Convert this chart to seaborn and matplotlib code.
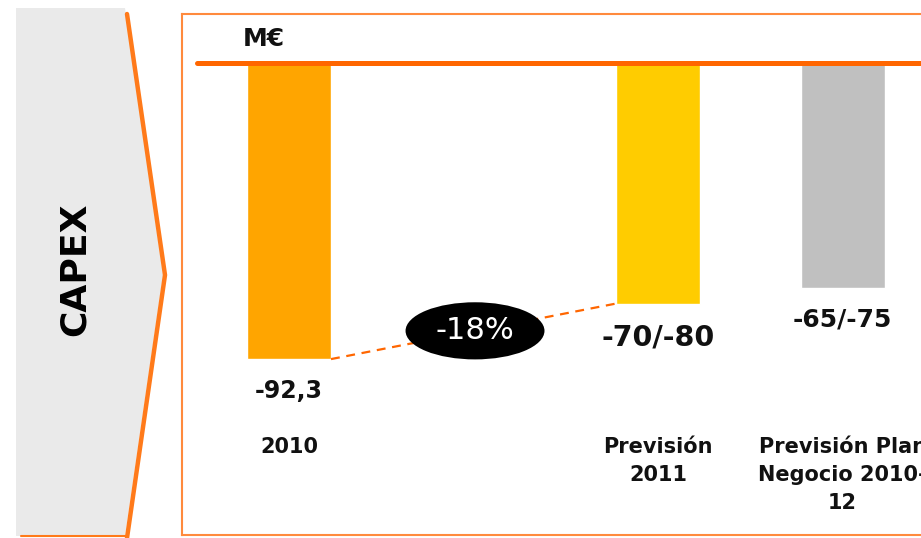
import numpy as np
import pandas as pd
import seaborn as sns
import matplotlib.pyplot as plt
from matplotlib.patches import Ellipse, Polygon

# data (M€, negative = spend)
categories = ["2010", "Previsión\n2011", "Previsión Plan\nNegocio 2010-\n12"]
values = [-92.3, -75.0, -70.0]
value_labels = ["-92,3", "-70/-80", "-65/-75"]
change_label = "-18%"
unit_label = "M€"
section_label = "CAPEX"

bar_colors = ["#FFA500", "#FFCC00", "#C0C0C0"]
label_sizes = [17, 20.5, 18]
ORANGE = "#FF6600"
BOX_ORANGE = "#FF8A3D"

sns.set_style("white")
plt.rcParams['font.family'] = ['DejaVu Sans']

W, H = 921, 538
fig = plt.figure(figsize=(W / 100, H / 100), dpi=100)

# background layer in pixel coords for the side tab
bg = fig.add_axes([0, 0, 1, 1])
bg.set_xlim(0, W)
bg.set_ylim(H, 0)
bg.axis("off")
bg.add_patch(Polygon([(16, 8), (125, 8), (163, 275), (125, 536), (16, 536)],
                     closed=True, facecolor="#EAEAEA", edgecolor="none"))
bg.plot([127, 165, 127], [14, 275, 538], color="#FF7A1A", lw=3.2, solid_joinstyle="miter")
bg.plot([21, 127], [536, 536], color="#FF7A1A", lw=1.5)
bg.text(75, 269, section_label, rotation=90, ha="center", va="center",
        fontsize=26, fontweight="bold", color="black")

# bar chart area
left_px, right_px, top_px, bot_px = 182, W, 14, 535
ax = fig.add_axes([left_px / W, 1 - bot_px / H, (right_px - left_px) / W, (bot_px - top_px) / H])
ax.patch.set_alpha(0)

df = pd.DataFrame({"cat": categories, "val": values})
order = [categories[0], " ", categories[1], categories[2]]
sns.barplot(data=df, x="cat", y="val", hue="cat", order=order, hue_order=categories,
            palette=dict(zip(categories, bar_colors)), width=0.455, legend=False,
            saturation=1, ax=ax, zorder=2)

ax.set_xlim(-0.58, 3.425)
ax.set_ylim(-147.1, 15.2)
ax.set_xticks([])
ax.set_yticks([])
ax.set_xlabel("")
ax.set_ylabel("")
for side in ["top", "bottom", "left"]:
    ax.spines[side].set_color(BOX_ORANGE)
    ax.spines[side].set_linewidth(1.5)
ax.spines["right"].set_visible(False)

# zero line
ax.plot([-0.5, 3.425], [0, 0], color=ORANGE, lw=3.6, solid_capstyle="round", zorder=3, clip_on=False)

xpos = [order.index(c) for c in categories]

# value labels under the bars
for x, v, lab, fs in zip(xpos, values, value_labels, label_sizes):
    ax.text(x, v - 6.3, lab, ha="center", va="top", fontsize=fs, fontweight="bold", color="#111111")

# category labels
for x, c in zip(xpos, categories):
    ax.text(x, 0.188, c, transform=ax.get_xaxis_transform(), ha="center", va="top",
            fontsize=15, fontweight="bold", color="#111111", linespacing=1.5)

# dashed change line between first two bars
half = 0.455 / 2
ax.plot([xpos[0] + half, xpos[1] - half], [values[0], values[1]], color=ORANGE,
        lw=1.6, ls=(0, (4, 3)), zorder=3)
ax.add_patch(Ellipse((1.008, -83.5), 0.753, 17.8, facecolor="black", edgecolor="none", zorder=4))
ax.text(1.008, -83.5, change_label, ha="center", va="center", fontsize=22, color="white", zorder=5)

ax.text(0.0 - 0.25, 7.4, unit_label, ha="left", va="center", fontsize=18, fontweight="bold", color="#111111")

fig.savefig("out.png", dpi=100)
plt.close()
